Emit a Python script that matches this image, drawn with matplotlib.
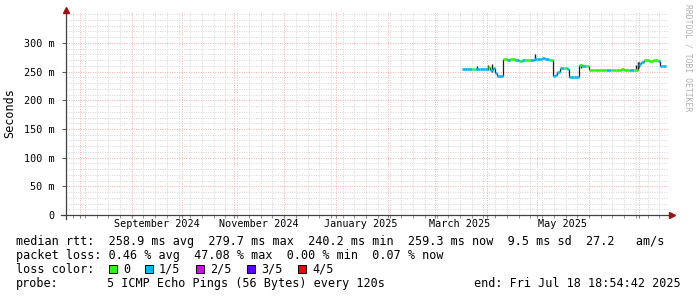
import matplotlib
matplotlib.use('Agg')
import matplotlib.pyplot as plt
import matplotlib.dates as mdates
from matplotlib.lines import Line2D
from matplotlib.patches import Rectangle
from matplotlib.ticker import MultipleLocator
import matplotlib.transforms as mtransforms
import pandas as pd

W, H = 697, 297

# median rtt, drawn as steps: start of each step, value in ms, loss index
step_dates = ['2025-03-17', '2025-03-20', '2025-03-23', '2025-03-25', '2025-03-28',
              '2025-03-31', '2025-04-02', '2025-04-03', '2025-04-05', '2025-04-06',
              '2025-04-07', '2025-04-10 12:00', '2025-04-13', '2025-04-15', '2025-04-18',
              '2025-04-20', '2025-04-22', '2025-04-24', '2025-04-27', '2025-04-29',
              '2025-05-01', '2025-05-04', '2025-05-06', '2025-05-08', '2025-05-10 12:00',
              '2025-05-12', '2025-05-13', '2025-05-15', '2025-05-17', '2025-05-19',
              '2025-05-20', '2025-05-23', '2025-05-26', '2025-05-28', '2025-05-30',
              '2025-06-01', '2025-06-04', '2025-06-08', '2025-06-11', '2025-06-14',
              '2025-06-17', '2025-06-20', '2025-06-22', '2025-06-25', '2025-06-28',
              '2025-06-30', '2025-07-01', '2025-07-02', '2025-07-04', '2025-07-07',
              '2025-07-09', '2025-07-12', '2025-07-13 12:00', '2025-07-15']
step_ms = [254.5, 254.0, 255.0, 254.0, 254.5,
           255.0, 258.5, 253.5, 256.0, 248.0,
           243.0, 271.5, 271.0, 271.5, 270.5,
           268.5, 270.5, 270.0, 271.0, 271.5,
           271.5, 273.5, 271.5, 270.5, 242.5,
           244.0, 250.0, 255.5, 256.0, 255.0,
           240.5, 241.5, 261.0, 259.0, 260.5,
           252.5, 252.0, 252.5, 253.0, 252.5,
           252.5, 254.0, 252.5, 252.5, 252.5,
           261.0, 263.5, 267.5, 269.5, 268.5,
           269.5, 268.0, 260.0, 260.5]
step_loss = [1, 1, 0, 1, 1,
             1, 0, 1, 1, 1,
             1, 0, 1, 0, 1,
             0, 1, 0, 1, 1,
             1, 1, 1, 0, 1,
             1, 1, 1, 0, 1,
             1, 1, 0, 1, 0,
             0, 0, 0, 1, 0,
             0, 0, 0, 1, 0,
             1, 1, 1, 0, 0,
             0, 1, 1, 1]
step_end = '2025-07-17'

# dark smoke spikes
spike_dates = ['2025-03-26', '2025-04-02', '2025-04-04', '2025-04-30', '2025-05-27',
               '2025-06-29', '2025-06-30', '2025-07-01']
spike_lo = [253, 252, 250, 270, 256, 252, 256, 258]
spike_hi = [260, 262, 264, 280, 264, 262, 266, 266]

loss_labels = ['0', '1/5', '2/5', '3/5', '4/5']
loss_colors = ['#26ff00', '#00b8ff', '#dd00ff', '#5e00ff', '#ff0000']

month_labels = ['September 2024', 'November 2024', 'January 2025', 'March 2025', 'May 2025']
month_label_dates = ['2024-09-16', '2024-11-16', '2025-01-16', '2025-03-16', '2025-05-16']

y_ticks = [0, 50, 100, 150, 200, 250, 300]
y_tick_labels = ['0', '50 m', '100 m', '150 m', '200 m', '250 m', '300 m']

t_start = pd.Timestamp('2024-07-23 18:54:42')
t_end = pd.Timestamp('2025-07-18 18:54:42')

MONO = 'DejaVu Sans Mono'


def fx(x):
    return x / W


def fy(y):
    return 1 - y / H


def to_num(dates):
    return mdates.date2num(pd.to_datetime(dates, format='ISO8601'))


fig = plt.figure(figsize=(W / 100, H / 100), dpi=100)
fig.patch.set_facecolor('white')
ax = fig.add_axes([fx(66), fy(215), (669 - 66) / W, (215 - 12) / H])
ax.set_facecolor('white')

x0 = mdates.date2num(t_start)
x1 = mdates.date2num(t_end)
ax.set_xlim(x0, x1)
ax.set_ylim(0, 354)

# grid
ax.xaxis.set_major_locator(mdates.MonthLocator())
ax.xaxis.set_minor_locator(mdates.WeekdayLocator(byweekday=mdates.SU))
ax.set_yticks(y_ticks)
ax.yaxis.set_minor_locator(MultipleLocator(10))
ax.grid(which='minor', color='#d6d6d6', linestyle=(0, (1, 1.4)), linewidth=0.72)
ax.grid(which='major', color='#f2b0b0', linestyle=(0, (1, 1.4)), linewidth=0.72)
ax.set_axisbelow(True)
for s in ax.spines.values():
    s.set_visible(False)
ax.tick_params(axis='x', which='both', length=2, color='#808080', labelbottom=False)
ax.tick_params(axis='y', which='major', length=3, color='#606060', pad=5,
               labelsize=7.3, labelfontfamily=MONO)
ax.tick_params(axis='y', which='minor', length=0)
ax.set_yticklabels(y_tick_labels)

# smoke spikes
sd = to_num(spike_dates)
ax.vlines(sd, spike_lo, spike_hi, color='#202020', linewidth=1.0, zorder=3)

# median steps
d = list(to_num(step_dates)) + [mdates.date2num(pd.Timestamp(step_end))]
for i in range(len(step_ms)):
    ax.hlines(step_ms[i], d[i], d[i + 1], color=loss_colors[step_loss[i]], linewidth=1.9, zorder=4)
    if i + 1 < len(step_ms):
        ax.vlines(d[i + 1], step_ms[i], step_ms[i + 1], color='#202020', linewidth=0.9, zorder=3)

# axis lines with arrows
fig.add_artist(Line2D([fx(61), fx(671)], [fy(215), fy(215)], color='#404040', linewidth=0.9))
fig.add_artist(Line2D([fx(66), fx(66)], [fy(219), fy(12)], color='#404040', linewidth=0.9))
fig.add_artist(Line2D([fx(672)], [fy(215)], marker='>', markersize=4, color='#a01010', linestyle='none'))
fig.add_artist(Line2D([fx(66)], [fy(10)], marker='^', markersize=4, color='#a01010', linestyle='none'))

# month labels centred on mid month
trans = mtransforms.blended_transform_factory(ax.transData, fig.transFigure)
for lab, dd in zip(month_labels, month_label_dates):
    ax.text(mdates.date2num(pd.Timestamp(dd)), fy(224), lab, transform=trans, ha='center',
            va='center', fontsize=7.3, family=MONO, clip_on=False)

fig.text(fx(10), fy(113), 'Seconds', rotation=90, ha='center', va='center', fontsize=8.5, family=MONO)
fig.text(fx(688), fy(4), 'RRDTOOL / TOBI OETIKER', rotation=270, ha='center', va='top',
         fontsize=5.8, family=MONO, color='#b0b0b0')

# legend block
fs = 8.5
fig.text(fx(16), fy(245), 'median rtt:  258.9 ms avg  279.7 ms max  240.2 ms min  259.3 ms now  9.5 ms sd  27.2   am/s',
         fontsize=fs, family=MONO, va='baseline')
fig.text(fx(16), fy(259), 'packet loss: 0.46 % avg  47.08 % max  0.00 % min  0.07 % now',
         fontsize=fs, family=MONO, va='baseline')
fig.text(fx(16), fy(273), 'loss color:', fontsize=fs, family=MONO, va='baseline')
box_x = [109, 145, 196, 247, 298]
for bx, lab, col in zip(box_x, loss_labels, loss_colors):
    fig.add_artist(Rectangle((fx(bx), fy(273)), 8 / W, 8 / H, facecolor=col, edgecolor='black',
                             linewidth=0.7, transform=fig.transFigure))
    fig.text(fx(bx + 14), fy(273), lab, fontsize=fs, family=MONO, va='baseline')
fig.text(fx(16), fy(287), 'probe:', fontsize=fs, family=MONO, va='baseline')
fig.text(fx(107), fy(287), '5 ICMP Echo Pings (56 Bytes) every 120s',
         fontsize=fs, family=MONO, va='baseline')
fig.text(fx(681), fy(287), 'end: Fri Jul 18 18:54:42 2025', fontsize=fs, family=MONO,
         va='baseline', ha='right')

fig.savefig('out.png', dpi=100, facecolor='white')
